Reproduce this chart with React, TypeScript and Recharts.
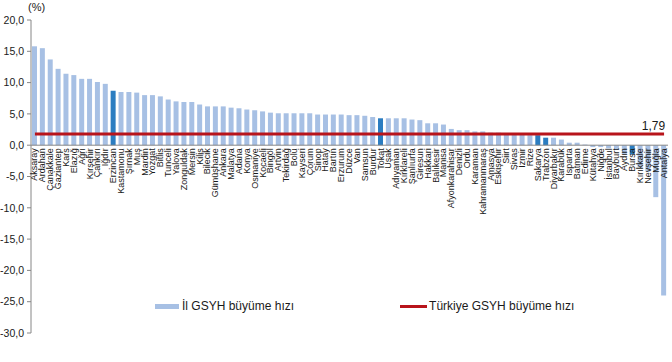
import React from "react";
import {
  ComposedChart,
  Bar,
  Line,
  XAxis,
  YAxis,
  ReferenceLine,
  Cell,
  LabelList,
} from "recharts";

const provinces = [
  "Aksaray", "Ardahan", "Çanakkale", "Gaziantep", "Kars", "Elazığ", "Ağrı", "Kırşehir", "Çankırı", "Iğdır",
  "Erzincan", "Kastamonu", "Şırnak", "Muş", "Mardin", "Yozgat", "Bitlis", "Tunceli", "Yalova", "Zonguldak",
  "Mersin", "Kilis", "Bilecik", "Gümüşhane", "Ankara", "Malatya", "Adana", "Konya", "Osmaniye", "Kocaeli",
  "Bingöl", "Artvin", "Tekirdağ", "Bolu", "Kayseri", "Çorum", "Sinop", "Hatay", "Bartın", "Erzurum",
  "Düzce", "Van", "Samsun", "Burdur", "Tokat", "Uşak", "Adıyaman", "Kırklareli", "Şanlıurfa", "Giresun",
  "Hakkari", "Balıkesir", "Manisa", "Afyonkarahisar", "Denizli", "Ordu", "Karaman", "Kahramanmaraş", "Amasya", "Eskişehir",
  "Siirt", "Sivas", "İzmir", "Rize", "Sakarya", "Trabzon", "Diyarbakır", "Karabük", "Isparta", "Batman",
  "Edirne", "Kütahya", "Niğde", "İstanbul", "Bayburt", "Aydın", "Bursa", "Kırıkkale", "Nevşehir", "Muğla",
  "Antalya",
];

const growth = [
  15.8, 15.5, 13.7, 12.2, 11.4, 11.2, 10.6, 10.6, 10.1, 9.8,
  8.7, 8.5, 8.5, 8.4, 8.0, 8.0, 7.8, 7.3, 7.0, 6.9,
  6.9, 6.5, 6.2, 6.2, 6.2, 6.0, 5.9, 5.7, 5.6, 5.4,
  5.2, 5.1, 5.1, 5.1, 5.1, 5.1, 4.9, 4.9, 4.9, 4.9,
  4.8, 4.8, 4.7, 4.5, 4.3, 4.3, 4.3, 4.3, 4.1, 4.0,
  3.5, 3.5, 3.3, 2.6, 2.4, 2.4, 2.2, 2.2, 2.0, 2.0,
  1.8, 1.7, 1.7, 1.6, 1.6, 1.2, 1.2, 0.9, 0.4, 0.4,
  0.1, -0.3, -0.3, -0.5, -0.7, -1.4, -1.5, -3.5, -4.2, -8.3,
  -24.0,
];

const highlighted = ["Erzincan", "Tokat", "Sakarya", "Trabzon", "Bursa"];

const turkeyGrowth = 1.79;

const yTicks = [-30, -25, -20, -15, -10, -5, 0, 5, 10, 15, 20];

const seriesNames = ["İl GSYH büyüme hızı", "Türkiye GSYH büyüme hızı"];

const LIGHT = "#A7C0E4";
const DARK = "#2B7DC1";
const RED = "#B8141B";
const AXIS = "#868686";
const FONT = "'Liberation Sans', Arial, sans-serif";

const data = provinces.map((name, i) => ({
  name,
  il: growth[i],
  tr: turkeyGrowth,
}));

const fmt = (v: number) => v.toFixed(1).replace(".", ",");

const CategoryLabel = (props: any) => {
  const { x, y, width, height, value, index } = props;
  const v = growth[index];
  let zeroY: number;
  if (v >= 0) zeroY = y + height;
  else zeroY = height < 0 ? y + height : y;
  const cx = x + width / 2;
  const ty = zeroY + 3;
  return (
    <text
      x={cx}
      y={ty}
      transform={`rotate(-90, ${cx}, ${ty})`}
      textAnchor="end"
      dominantBaseline="central"
      fontSize={9}
      fontFamily={FONT}
      fill="#1a1a1a"
    >
      {value}
    </text>
  );
};

const TrLabel = (props: any) => {
  const { x, y, index } = props;
  if (index !== data.length - 1) return null;
  return (
    <text
      x={x + 1}
      y={y - 4}
      textAnchor="end"
      fontSize={12}
      fontFamily={FONT}
      fill="#1a1a1a"
    >
      {turkeyGrowth.toFixed(2).replace(".", ",")}
    </text>
  );
};

export default function App() {
  return (
    <div
      style={{
        position: "absolute",
        left: 0,
        top: 0,
        width: 672,
        height: 362,
        background: "#fff",
        fontFamily: FONT,
      }}
    >
      <ComposedChart
        width={672}
        height={362}
        data={data}
        margin={{ top: 20, right: 4, left: 0, bottom: 29 }}
        barCategoryGap={0}
      >
        <XAxis dataKey="name" hide />
        <YAxis
          width={31}
          domain={[-30, 20]}
          ticks={yTicks}
          interval={0}
          tickFormatter={fmt}
          axisLine={{ stroke: AXIS, strokeWidth: 1 }}
          tickLine={{ stroke: AXIS }}
          tickSize={4}
          tickMargin={3}
          tick={{ fontSize: 10.5, fill: "#1a1a1a", fontFamily: FONT }}
        />
        <Bar dataKey="il" barSize={5} isAnimationActive={false}>
          {data.map((d) => (
            <Cell
              key={d.name}
              fill={highlighted.includes(d.name) ? DARK : LIGHT}
            />
          ))}
          <LabelList dataKey="name" content={<CategoryLabel />} />
        </Bar>
        <ReferenceLine y={0} stroke={AXIS} strokeWidth={1} />
        <Line
          dataKey="tr"
          stroke={RED}
          strokeWidth={3}
          dot={false}
          activeDot={false}
          isAnimationActive={false}
        >
          <LabelList dataKey="tr" content={<TrLabel />} />
        </Line>
      </ComposedChart>
      <div
        style={{
          position: "absolute",
          left: 28,
          top: 1,
          fontSize: 11,
          color: "#1a1a1a",
        }}
      >
        (%)
      </div>
      <div
        style={{
          position: "absolute",
          left: 155,
          top: 299,
          display: "flex",
          alignItems: "center",
          fontSize: 12,
          color: "#1a1a1a",
          whiteSpace: "nowrap",
        }}
      >
        <span
          style={{
            display: "inline-block",
            width: 24,
            height: 5,
            background: LIGHT,
            marginRight: 3,
          }}
        />
        <span>{seriesNames[0]}</span>
        <span
          style={{
            display: "inline-block",
            width: 27,
            height: 3,
            background: RED,
            marginLeft: 106,
            marginRight: 2,
          }}
        />
        <span>{seriesNames[1]}</span>
      </div>
    </div>
  );
}
